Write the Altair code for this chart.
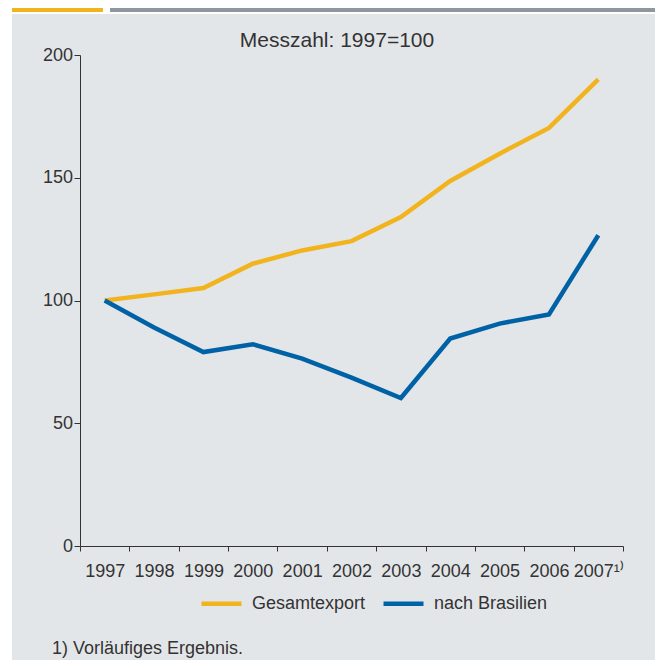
import altair as alt
import pandas as pd

# ---- data ----
years = ["1997", "1998", "1999", "2000", "2001", "2002", "2003", "2004", "2005", "2006", "2007"]
gesamtexport = [100, 102.5, 105.1, 115.0, 120.4, 124.2, 134.0, 148.7, 159.8, 170.3, 190.1]
nach_brasilien = [100, 89.0, 79.0, 82.2, 76.3, 68.6, 60.3, 84.5, 90.6, 94.3, 126.6]
series_names = ["Gesamtexport", "nach Brasilien"]
series_colors = ["#F2B41E", "#0062A6"]
y_ticks = [0, 50, 100, 150, 200]
title_text = "Messzahl: 1997=100"
footnote_text = "1) Vorläufiges Ergebnis."
last_label = "2007¹⁾"

FONT = "Liberation Sans"
TXT = "#333333"
PANEL = "#E3E6E9"
W, H = 543, 491

df = pd.DataFrame({
    "Jahr": years * 2,
    "Wert": gesamtexport + nach_brasilien,
    "Reihe": [series_names[0]] * len(years) + [series_names[1]] * len(years),
})

one = alt.Data(values=[{}])

panel = alt.Chart(one).mark_rect(color=PANEL).encode(
    x=alt.value(-68), x2=alt.value(590), y=alt.value(-41), y2=alt.value(620)
)
strip_orange = alt.Chart(one).mark_rect(color="#F2B41E").encode(
    x=alt.value(-68), x2=alt.value(23), y=alt.value(-47), y2=alt.value(-43)
)
strip_gray = alt.Chart(one).mark_rect(color="#8F969D").encode(
    x=alt.value(30), x2=alt.value(590), y=alt.value(-47), y2=alt.value(-43)
)

lines = alt.Chart(df).mark_line(strokeWidth=4.5).encode(
    x=alt.X(
        "Jahr:O",
        sort=years,
        bandPosition=0.5,
        scale=alt.Scale(type="band", paddingInner=0, paddingOuter=0),
        axis=alt.Axis(
            title=None, tickBand="extent", labelAngle=0, grid=False, zindex=1,
            domainColor=TXT, tickColor=TXT, tickSize=5, labelPadding=11,
            labelFont=FONT, labelFontSize=18, labelColor=TXT,
            labelExpr=f"datum.value == '2007' ? '{last_label}' : datum.value",
        ),
    ),
    y=alt.Y(
        "Wert:Q",
        scale=alt.Scale(domain=[0, 200], nice=False, zero=True),
        axis=alt.Axis(
            title=None, values=y_ticks, grid=False, zindex=1,
            domainColor=TXT, tickColor=TXT, tickSize=6, labelPadding=1.5,
            labelFont=FONT, labelFontSize=18, labelColor=TXT,
        ),
    ),
    color=alt.Color(
        "Reihe:N",
        scale=alt.Scale(domain=series_names, range=series_colors),
        legend=alt.Legend(
            title=None, orient="none", legendX=119, legendY=526,
            direction="horizontal", symbolType="stroke", symbolSize=1600,
            symbolStrokeWidth=4.5, labelFont=FONT, labelFontSize=18,
            labelColor=TXT, labelOffset=8, columnPadding=8,
        ),
    ),
)

title = alt.Chart(alt.Data(values=[{"t": title_text}])).mark_text(
    font=FONT, fontSize=21, color=TXT, align="center", baseline="alphabetic"
).encode(x=alt.value(257), y=alt.value(-8), text="t:N")

footnote = alt.Chart(alt.Data(values=[{"t": footnote_text}])).mark_text(
    font=FONT, fontSize=18, color=TXT, align="left", baseline="alphabetic"
).encode(x=alt.value(-28), y=alt.value(598.6), text="t:N")

chart = alt.layer(panel, strip_orange, strip_gray, lines, title, footnote).properties(
    width=W, height=H,
    autosize=alt.AutoSizeParams(type="none"),
    padding={"left": 72, "top": 47, "right": 32, "bottom": 114},
    background="white",
).configure_view(stroke=None)

chart.save("out.html", embed_options={"renderer": "svg", "actions": False})
